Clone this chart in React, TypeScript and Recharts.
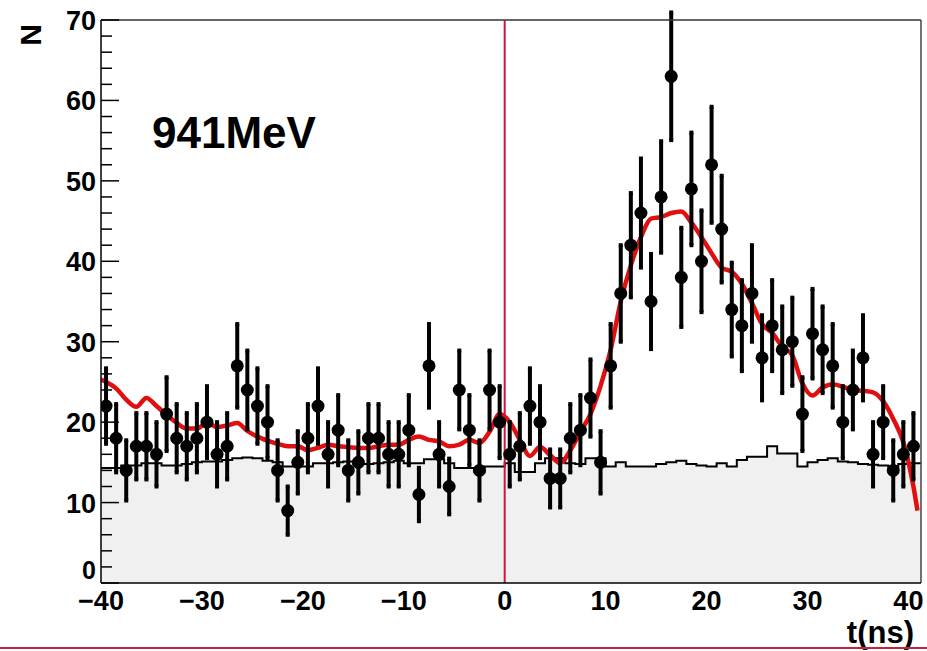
import React from 'react';
import {
  ComposedChart,
  XAxis,
  YAxis,
  Area,
  Line,
  Scatter,
  ErrorBar,
  ReferenceLine,
} from 'recharts';

const FONT = '"Liberation Sans", Arial, Helvetica, sans-serif';

// histogram binning (1 ns bins starting at -40 ns)
const BIN_START = -40;
const BIN_WIDTH = 1;
const X_MAX = 41.25;

// measured counts per bin
const counts = [
  22, 18, 14, 17, 17, 16, 21, 18, 17, 18,
  20, 16, 17, 27, 24, 22, 20, 14, 9, 15,
  18, 22, 16, 19, 14, 15, 18, 18, 16, 16,
  19, 11, 27, 16, 12, 24, 19, 14, 24, 20,
  16, 17, 22, 20, 13, 13, 18, 19, 23, 15,
  27, 36, 42, 46, 35, 48, 63, 38, 49, 40,
  52, 44, 34, 32, 36, 28, 32, 29, 30, 21,
  31, 29, 27, 20, 24, 28, 16, 20, 14, 16,
  17,
];

// background histogram (grey, step)
const background = [
  14.3, 14.3, 14.6, 14.6, 14.9, 14.9, 14.6, 14.6, 14.8, 15.0,
  15.1, 15.1, 15.3, 15.5, 15.6, 15.5, 15.2, 15.0, 14.5, 14.5,
  14.5, 14.9, 14.9, 15.0, 15.1, 14.8, 14.8, 14.9, 15.0, 15.2,
  14.9, 14.9, 15.4, 15.4, 14.9, 14.3, 14.3, 13.8, 14.5, 14.5,
  14.9, 13.8, 13.8, 14.9, 15.5, 15.5, 14.9, 14.8, 15.5, 15.5,
  14.5, 15.0, 14.5, 14.5, 14.5, 14.8, 15.0, 15.2, 14.8, 14.6,
  14.5, 14.9, 14.5, 15.3, 15.7, 15.7, 17.0, 16.1, 16.1, 14.5,
  15.0, 15.3, 15.5, 15.1, 15.0, 14.8, 14.7, 14.6, 14.5, 14.8,
  14.9,
];

// fitted curve (red), at bin centres
const fitCurve = [
  25.0, 24.2, 22.8, 21.9, 23.0, 22.0, 20.9, 19.9, 19.2, 19.2,
  19.9, 19.4, 19.6, 19.9, 18.9, 18.2, 17.7, 17.3, 17.0, 17.0,
  16.5, 16.8, 17.2, 17.0, 16.9, 16.8, 16.8, 17.0, 17.2, 17.2,
  17.8, 18.2, 17.8, 17.6, 17.0, 17.2, 17.8, 17.4, 18.8, 21.0,
  20.0, 17.8, 15.8, 16.9, 15.9, 14.9, 16.5, 18.8, 21.0, 24.5,
  29.0, 35.0, 39.5, 43.0, 45.3, 45.5, 46.0, 46.2, 44.8, 43.0,
  41.0, 39.2, 38.7, 37.2, 34.8, 32.2, 31.1, 29.4, 28.3, 24.8,
  23.3, 24.3, 24.7, 24.4, 24.0, 23.9, 23.7, 22.6, 20.4, 17.5,
  12.0,
];
const fitEnds = [
  { x: -40, y: 25.3 },
  { x: 40.9, y: 9.0 },
];

const xTicks = [-40, -30, -20, -10, 0, 10, 20, 30, 40];
const yTicks = [
  0, 2, 4, 6, 8, 10, 12, 14, 16, 18, 20, 22, 24, 26, 28, 30, 32, 34,
  36, 38, 40, 42, 44, 46, 48, 50, 52, 54, 56, 58, 60, 62, 64, 66, 68, 70,
];

const points = counts.map((n, i) => ({
  x: BIN_START + (i + 0.5) * BIN_WIDTH,
  y: n,
  err: Math.sqrt(n),
}));

const bgSteps = [
  ...background.map((v, i) => ({ x: BIN_START + i * BIN_WIDTH, y: v })),
  { x: X_MAX, y: background[background.length - 1] },
];

const fitLine = [
  fitEnds[0],
  ...fitCurve.map((v, i) => ({ x: BIN_START + (i + 0.5) * BIN_WIDTH, y: v })),
  fitEnds[1],
];

const YTick = (props: any) => {
  const { x, y, payload } = props;
  const major = payload.value % 10 === 0;
  return (
    <g>
      <line x1={x} x2={x + (major ? 18 : 11)} y1={y} y2={y} stroke="#000" strokeWidth={1.5} />
      {major && (
        <text
          x={x - 5}
          y={y + (payload.value === 0 ? -4 : 10)}
          textAnchor="end"
          fontFamily={FONT}
          fontWeight="bold"
          fontSize={payload.value === 0 ? 25 : 27}
          fill="#000"
        >
          {payload.value}
        </text>
      )}
    </g>
  );
};

const XTick = (props: any) => {
  const { x, y, payload } = props;
  const label = String(payload.value).replace('-', '\u2212');
  return (
    <text
      x={x}
      y={y + 27}
      textAnchor="middle"
      fontFamily={FONT}
      fontWeight="bold"
      fontSize={27}
      fill="#000"
    >
      {label}
    </text>
  );
};

const Dot = (props: any) => {
  const { cx, cy } = props;
  return <circle cx={cx} cy={cy} r={6.5} fill="#000" />;
};

export default function App() {
  return (
    <div style={{ position: 'absolute', left: 0, top: 0, width: 927, height: 651, background: '#fff' }}>
      <ComposedChart
        width={927}
        height={651}
        margin={{ top: 20, right: 6, bottom: 38, left: 0 }}
      >
        <XAxis
          type="number"
          dataKey="x"
          domain={[BIN_START, X_MAX]}
          ticks={xTicks}
          allowDataOverflow
          height={30}
          tickSize={0}
          tickMargin={0}
          tickLine={false}
          tick={<XTick />}
          axisLine={{ stroke: '#000', strokeWidth: 1.5 }}
        />
        <YAxis
          type="number"
          domain={[0, 70]}
          ticks={yTicks}
          allowDataOverflow
          width={101}
          tickSize={0}
          tickMargin={0}
          tickLine={false}
          tick={<YTick />}
          interval={0}
          axisLine={{ stroke: '#000', strokeWidth: 1.5 }}
        />
        <Area
          data={bgSteps}
          dataKey="y"
          type="stepAfter"
          stroke="#000"
          strokeWidth={2}
          fill="#f0f0f0"
          fillOpacity={1}
          isAnimationActive={false}
          dot={false}
          activeDot={false}
        />
        <Line
          data={fitLine}
          dataKey="y"
          type="monotone"
          stroke="#e01010"
          strokeWidth={4.5}
          dot={false}
          activeDot={false}
          isAnimationActive={false}
        />
        <Scatter data={points} dataKey="y" shape={<Dot />} isAnimationActive={false}>
          <ErrorBar dataKey="err" direction="y" width={2} stroke="#000" strokeWidth={4} />
        </Scatter>
        <ReferenceLine y={70} stroke="#333" strokeWidth={1.5} />
        <ReferenceLine x={X_MAX} stroke="#444" strokeWidth={1.5} />
        <ReferenceLine x={0} stroke="#d2143a" strokeWidth={2} />
      </ComposedChart>
      <svg
        width={927}
        height={651}
        style={{ position: 'absolute', left: 0, top: 0, pointerEvents: 'none' }}
      >
        <text x={152} y={148} fontFamily={FONT} fontWeight="bold" fontSize={44} fill="#000">
          941MeV
        </text>
        <text x={914} y={643} textAnchor="end" fontFamily={FONT} fontWeight="bold" fontSize={31} fill="#000">
          t(ns)
        </text>
        <text
          x={0}
          y={0}
          transform="translate(41 35) rotate(-90)"
          textAnchor="middle"
          fontFamily={FONT}
          fontWeight="bold"
          fontSize={30}
          fill="#000"
        >
          N
        </text>
        <rect x={0} y={647} width={927} height={2} fill="#c8203a" />
      </svg>
    </div>
  );
}
